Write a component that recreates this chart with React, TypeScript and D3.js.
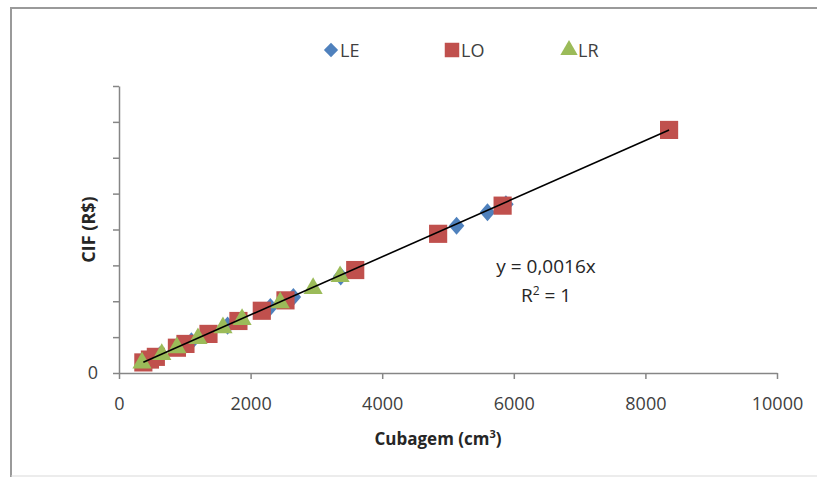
import React, { useEffect, useRef } from 'react';
import * as d3 from 'd3';

// LE series (diamonds)
const leX = [620, 1100, 1650, 2300, 2650, 3370, 5130, 5600, 5880];
const leY = [0.99, 1.76, 2.64, 3.68, 4.24, 5.39, 8.21, 8.96, 9.41];
// LO series (squares)
const loX = [370, 470, 560, 880, 1010, 1360, 1815, 2170, 2530, 3590, 4850, 5830, 8360];
const loY = [0.59, 0.75, 0.9, 1.41, 1.62, 2.18, 2.9, 3.47, 4.05, 5.74, 7.76, 9.33, 13.55];
// LR series (triangles)
const lrX = [350, 650, 880, 1200, 1580, 1870, 2450, 2950, 3360];
const lrY = [0.56, 1.04, 1.41, 1.92, 2.53, 2.99, 3.92, 4.72, 5.38];

const xTicks = [0, 2000, 4000, 6000, 8000, 10000];
const yTicks = [0, 2, 4, 6, 8, 10, 12, 14, 16];
const trendStart = 370;
const trendEnd = 8360;
const slope = 0.00162;

const W = 817;
const H = 477;
const margin = { left: 119, right: 40, top: 86, bottom: 104 };

const App = () => {
  const ref = useRef(null);

  useEffect(() => {
    const svg = d3.select(ref.current);
    svg.selectAll('*').remove();

    const x = d3.scaleLinear().domain([0, 10000]).range([margin.left, W - margin.right]);
    const y = d3.scaleLinear().domain([0, 16]).range([H - margin.bottom, margin.top]);
    const font = 'Open Sans, sans-serif';
    const axisColor = '#868686';

    // outer frame
    svg.append('path')
      .attr('d', `M11,${H} V8 H${W}`)
      .attr('fill', 'none')
      .attr('stroke', '#9a9a9a')
      .attr('stroke-width', 2);
    svg.append('line')
      .attr('x1', 11).attr('x2', W)
      .attr('y1', H - 1).attr('y2', H - 1)
      .attr('stroke', '#d9d9d9');

    // x axis
    const xa = svg.append('g')
      .attr('transform', `translate(0, ${y(0)})`)
      .call(d3.axisBottom(x).tickValues(xTicks).tickSize(6).tickSizeOuter(0).tickFormat(d3.format('d')));
    xa.select('.domain').attr('stroke', axisColor).attr('stroke-width', 1.5);
    xa.selectAll('line').attr('stroke', axisColor).attr('stroke-width', 1.5);
    xa.selectAll('text')
      .attr('font-family', font).attr('font-size', 18).attr('fill', '#404040')
      .attr('y', 24);

    // y axis
    const ya = svg.append('g')
      .attr('transform', `translate(${x(0)}, 0)`)
      .call(d3.axisLeft(y).tickValues(yTicks).tickSize(6).tickSizeOuter(0)
        .tickFormat((d) => (d === 0 ? '0' : '')));
    ya.select('.domain').attr('stroke', axisColor).attr('stroke-width', 1.5);
    ya.selectAll('line').attr('stroke', axisColor).attr('stroke-width', 1.5);
    ya.selectAll('text')
      .attr('font-family', font).attr('font-size', 18).attr('fill', '#404040')
      .attr('x', -21);

    // axis titles
    svg.append('text')
      .attr('x', 438).attr('y', 445)
      .attr('text-anchor', 'middle')
      .attr('font-family', font).attr('font-size', 17).attr('font-weight', 'bold')
      .attr('fill', '#262626')
      .text('Cubagem (cm')
      .append('tspan').attr('dy', -7).attr('font-size', 11).text('3')
      .select(function () { return this.parentNode; })
      .append('tspan').attr('dy', 7).text(')');

    svg.append('text')
      .attr('transform', `translate(95, ${(y(0) + y(16)) / 2}) rotate(-90)`)
      .attr('text-anchor', 'middle')
      .attr('font-family', font).attr('font-size', 18).attr('font-weight', 'bold')
      .attr('fill', '#262626')
      .text('CIF (R$)');

    const blue = '#4F81BD';
    const red = '#C0504D';
    const green = '#9BBB59';

    const diamond = d3.symbol().type(d3.symbolDiamond2).size(190);
    const square = d3.symbol().type(d3.symbolSquare).size(330);
    const triangle = d3.symbol().type(d3.symbolTriangle).size(160);

    const g = svg.append('g');
    g.selectAll('.le')
      .data(leX.map((v, i) => [v, leY[i]]))
      .join('path')
      .attr('transform', (d) => `translate(${x(d[0])}, ${y(d[1])}) scale(0.9, 1.05)`)
      .attr('d', diamond)
      .attr('fill', blue);
    g.selectAll('.lo')
      .data(loX.map((v, i) => [v, loY[i]]))
      .join('path')
      .attr('class', 'lo')
      .attr('transform', (d) => `translate(${x(d[0])}, ${y(d[1])})`)
      .attr('d', square)
      .attr('fill', red);
    g.selectAll('.lr')
      .data(lrX.map((v, i) => [v, lrY[i]]))
      .join('path')
      .attr('class', 'lr')
      .attr('transform', (d) => `translate(${x(d[0])}, ${y(d[1])})`)
      .attr('d', triangle)
      .attr('fill', green);

    // linear trendline through origin
    svg.append('line')
      .attr('x1', x(trendStart)).attr('y1', y(trendStart * slope))
      .attr('x2', x(trendEnd)).attr('y2', y(trendEnd * slope))
      .attr('stroke', '#000').attr('stroke-width', 1.6);

    // equation
    svg.append('text')
      .attr('x', 546).attr('y', 273)
      .attr('text-anchor', 'middle')
      .attr('font-family', font).attr('font-size', 19).attr('fill', '#262626')
      .text('y = 0,0016x');
    const r2 = svg.append('text')
      .attr('x', 546).attr('y', 302)
      .attr('text-anchor', 'middle')
      .attr('font-family', font).attr('font-size', 19).attr('fill', '#262626');
    r2.append('tspan').text('R');
    r2.append('tspan').attr('dy', -7).attr('font-size', 12).text('2');
    r2.append('tspan').attr('dy', 7).text(' = 1');

    // legend
    const legend = [
      { name: 'LE', sym: d3.symbol().type(d3.symbolDiamond2).size(130), color: blue, x: 331 },
      { name: 'LO', sym: d3.symbol().type(d3.symbolSquare).size(210), color: red, x: 452 },
      { name: 'LR', sym: d3.symbol().type(d3.symbolTriangle).size(130), color: green, x: 569 },
    ];
    legend.forEach((l) => {
      svg.append('path')
        .attr('transform', `translate(${l.x}, 50)`)
        .attr('d', l.sym)
        .attr('fill', l.color);
      svg.append('text')
        .attr('x', l.x + 9).attr('y', 57)
        .attr('font-family', font).attr('font-size', 18).attr('fill', '#404040')
        .text(l.name);
    });
  }, []);

  return (
    <svg ref={ref} width={W} height={H}
      style={{ position: 'absolute', left: 0, top: 0, background: '#fff' }} />
  );
};

export default App;
